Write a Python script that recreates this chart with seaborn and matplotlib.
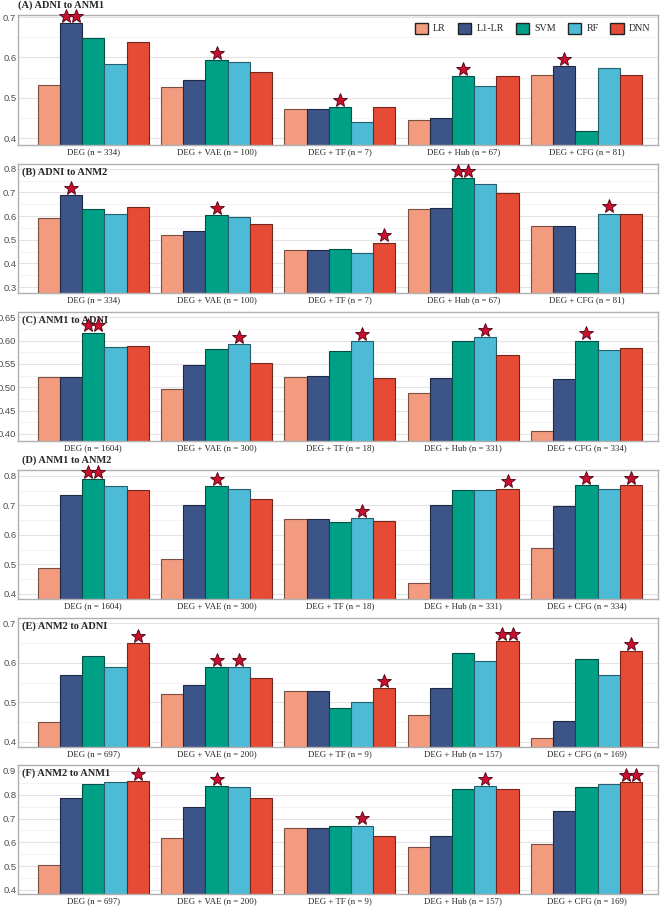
import matplotlib
matplotlib.use("Agg")
import matplotlib.pyplot as plt
import matplotlib.transforms as mtransforms
from matplotlib.patches import Patch
from matplotlib.ticker import MultipleLocator
import numpy as np
import pandas as pd
import seaborn as sns

models = ["LR", "L1-LR", "SVM", "RF", "DNN"]
colors = ["#F39B7F", "#3C5488", "#00A087", "#4DBBD5", "#E64B35"]
feature_sets = ["DEG", "DEG + VAE", "DEG + TF", "DEG + Hub", "DEG + CFG"]

n_adni = [334, 100, 7, 67, 81]
n_anm1 = [1604, 300, 18, 331, 334]
n_anm2 = [697, 200, 9, 157, 169]

titles = ["(A) ADNI to ANM1", "(B) ADNI to ANM2", "(C) ANM1 to ADNI",
          "(D) ANM1 to ANM2", "(E) ANM2 to ADNI", "(F) ANM2 to ANM1"]

# rows = feature sets, columns = LR, L1-LR, SVM, RF, DNN
auc_a = [[0.531, 0.685, 0.647, 0.583, 0.637],
         [0.526, 0.544, 0.593, 0.588, 0.563],
         [0.472, 0.472, 0.477, 0.440, 0.476],
         [0.445, 0.451, 0.553, 0.529, 0.554],
         [0.556, 0.579, 0.417, 0.573, 0.556]]
auc_b = [[0.590, 0.688, 0.631, 0.607, 0.640],
         [0.518, 0.539, 0.603, 0.595, 0.568],
         [0.456, 0.456, 0.459, 0.442, 0.488],
         [0.630, 0.634, 0.760, 0.735, 0.699],
         [0.559, 0.559, 0.359, 0.610, 0.609]]
auc_c = [[0.521, 0.521, 0.617, 0.586, 0.589],
         [0.496, 0.547, 0.581, 0.593, 0.552],
         [0.523, 0.525, 0.577, 0.598, 0.520],
         [0.487, 0.520, 0.600, 0.608, 0.568],
         [0.406, 0.518, 0.600, 0.580, 0.585]]
auc_d = [[0.488, 0.736, 0.789, 0.765, 0.753],
         [0.519, 0.700, 0.766, 0.757, 0.723],
         [0.653, 0.653, 0.643, 0.656, 0.646],
         [0.437, 0.703, 0.753, 0.753, 0.757],
         [0.555, 0.698, 0.768, 0.757, 0.768]]
auc_e = [[0.451, 0.569, 0.616, 0.588, 0.649],
         [0.520, 0.544, 0.589, 0.589, 0.561],
         [0.529, 0.529, 0.485, 0.501, 0.536],
         [0.468, 0.537, 0.624, 0.604, 0.654],
         [0.411, 0.452, 0.609, 0.570, 0.630]]
auc_f = [[0.505, 0.788, 0.844, 0.852, 0.858],
         [0.617, 0.750, 0.837, 0.831, 0.785],
         [0.660, 0.662, 0.669, 0.670, 0.625],
         [0.582, 0.625, 0.826, 0.835, 0.824],
         [0.592, 0.730, 0.834, 0.847, 0.854]]

# (feature set index, model index, number of stars)
stars_a = [(0, 1, 2), (1, 2, 1), (2, 2, 1), (3, 2, 1), (4, 1, 1)]
stars_b = [(0, 1, 1), (1, 2, 1), (2, 4, 1), (3, 2, 2), (4, 3, 1)]
stars_c = [(0, 2, 2), (1, 3, 1), (2, 3, 1), (3, 3, 1), (4, 2, 1)]
stars_d = [(0, 2, 2), (1, 2, 1), (2, 3, 1), (3, 4, 1), (4, 2, 1), (4, 4, 1)]
stars_e = [(0, 4, 1), (1, 2, 1), (1, 3, 1), (2, 4, 1), (3, 4, 2), (4, 4, 1)]
stars_f = [(0, 4, 1), (1, 2, 1), (2, 3, 1), (3, 3, 1), (4, 4, 2)]

panels = [
    (auc_a, n_adni, stars_a, (0.383, 0.705), 0.1, "outside"),
    (auc_b, n_adni, stars_b, (0.275, 0.82), 0.1, "inside"),
    (auc_c, n_anm1, stars_c, (0.385, 0.661), 0.05, "inside"),
    (auc_d, n_anm1, stars_d, (0.383, 0.82), 0.1, "outside"),
    (auc_e, n_anm2, stars_e, (0.387, 0.713), 0.1, "inside"),
    (auc_f, n_anm2, stars_f, (0.383, 0.925), 0.1, "inside"),
]

sns.set_style("white")
serif = ["Liberation Serif", "DejaVu Serif"]
sans = ["Liberation Sans", "DejaVu Sans"]

fig = plt.figure(figsize=(6.6, 9.06), dpi=100)

# axes boxes in pixels: top, bottom
boxes = [(15, 145), (164, 293), (312, 441), (470, 599), (618, 747), (765, 894)]

for k, (vals, ns, stars, ylim, step, tpos) in enumerate(panels):
    top, bot = boxes[k]
    ax = fig.add_axes([18 / 660, 1 - bot / 906, 640 / 660, (bot - top) / 906])
    labels = [f"{f} (n = {n})" for f, n in zip(feature_sets, ns)]
    df = pd.DataFrame(vals, columns=models)
    df["feature"] = labels
    df = df.melt(id_vars="feature", var_name="model", value_name="auc")
    sns.barplot(data=df, x="feature", y="auc", hue="model", order=labels,
                hue_order=models, palette=colors, width=0.9, saturation=1,
                legend=False, ax=ax, zorder=2)
    for p in ax.patches:
        fc = p.get_facecolor()
        p.set_edgecolor(tuple(c * 0.5 for c in fc[:3]))
        p.set_linewidth(0.8)

    ax.set_xlim(-0.61, 4.58)
    ax.set_ylim(*ylim)
    ticks = np.arange(np.ceil(ylim[0] / step - 1e-6) * step, ylim[1] + 1e-9, step)
    ax.set_yticks(ticks)
    fmt = "{:.2f}" if step < 0.1 else "{:.1f}"
    ax.set_yticklabels([fmt.format(t) for t in ticks], family=sans,
                       fontsize=6.8, color="#4d4d4d")
    ax.yaxis.set_minor_locator(MultipleLocator(step / 2))
    ax.grid(axis="y", which="major", color="#e3e3e3", lw=0.8, zorder=0)
    ax.grid(axis="y", which="minor", color="#f1f1f1", lw=0.6, zorder=0)
    ax.set_axisbelow(True)
    ax.tick_params(axis="x", which="both", length=0, pad=2)
    ax.tick_params(axis="y", which="both", length=0, pad=1.2)
    for lab in ax.get_xticklabels():
        lab.set_family(serif)
        lab.set_fontsize(6.3)
        lab.set_color("#222222")
    ax.set_xlabel("")
    ax.set_ylabel("")
    for s in ax.spines.values():
        s.set_color("#b0b0b0")
        s.set_linewidth(1.0)

    if tpos == "outside":
        ax.text(0.0 if k == 0 else 0.006, 1.0 + 10 / (bot - top), titles[k],
                transform=ax.transAxes, family=serif, fontweight="bold",
                fontsize=7.5, va="center", ha="left")
    else:
        ax.text(0.007, 1.0 - 8 / (bot - top), titles[k], transform=ax.transAxes,
                family=serif, fontweight="bold", fontsize=7.5,
                va="center", ha="left")

    # significance stars from drawn bars
    for g, m, cnt in stars:
        bar = ax.containers[m][g]
        x = bar.get_x() + bar.get_width() / 2
        y = bar.get_height()
        offs = [0.0] if cnt == 1 else [-3.8, 3.8]
        for dx in offs:
            tr = mtransforms.offset_copy(ax.transData, fig=fig, x=dx, y=5.2,
                                         units="points")
            ax.plot([x], [y], marker="*", ms=10, color="#C8102E",
                    mec="#4a0010", mew=0.6, transform=tr, clip_on=False,
                    zorder=5, ls="none")

    if k == 0:
        handles = [Patch(facecolor=c, edgecolor="#222222", lw=1.0) for c in colors]
        ax.legend(handles, models, loc="upper right", bbox_to_anchor=(1.0, 1.0),
                  ncol=5, frameon=False, prop={"family": serif, "size": 7.2},
                  handlelength=1.35, handleheight=1.35, handletextpad=0.5,
                  columnspacing=1.2, borderaxespad=0.35)

fig.savefig("out.png", dpi=100)
